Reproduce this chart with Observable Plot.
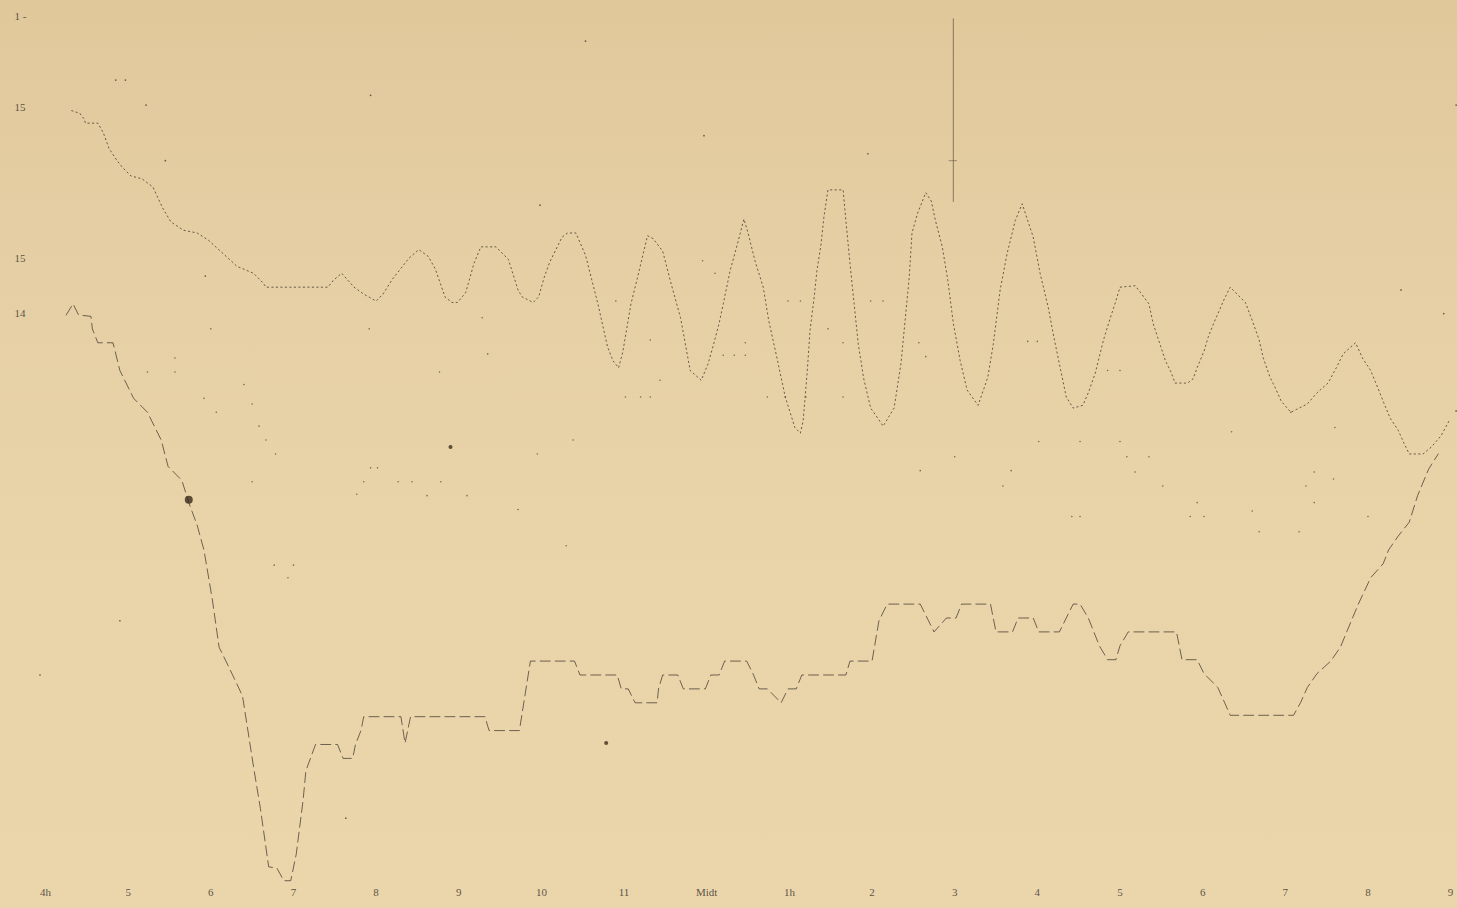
<!DOCTYPE html>
<html>
<head>
<meta charset="utf-8">
<script src="https://cdn.jsdelivr.net/npm/d3@7"></script>
<script src="https://cdn.jsdelivr.net/npm/@observablehq/plot@0.6"></script>
<style>
  html, body { margin: 0; padding: 0; }
  body {
    width: 1457px; height: 908px; overflow: hidden;
    background: linear-gradient(180deg, #e0c89b 0%, #e6cfa4 30%, #e9d3a9 60%, #ebd5ab 100%);
  }
  #chart svg { display: block; }
</style>
</head>
<body>
<div id="chart"></div>
<script>
// Time in minutes after 4h (4 a.m.) ; level in scale units
const hourTicks = [0, 60, 120, 180, 240, 300, 360, 420, 480, 540, 600, 660, 720, 780, 840, 900, 960, 1020];
const hourLabels = ["4h", "5", "6", "7", "8", "9", "10", "11", "Midt", "1h", "2", "3", "4", "5", "6", "7", "8", "9"];

const levelTicks = [64.2, 57.6, 46.8, 42.8];
const levelLabels = ["1 -", "15", "15", "14"];

// Upper (dotted, oscillating) record
const upperSeries = [
  [19,57.4],[25,57.2],[28,56.8],[29,56.5],[38,56.5],[42,55.8],[46,54.7],[52,53.8],[56,53.3],[62,52.7],
  [70,52.5],[78,51.9],[85,50.4],[91,49.4],[100,48.8],[110,48.6],[118,48.1],[128,47.2],[139,46.2],[151,45.7],
  [158,45.0],[160,44.7],[205,44.7],[209,45.2],[215,45.7],[224,44.7],[231,44.2],[240,43.7],[245,44.2],[252,45.3],
  [264,46.8],[271,47.4],[278,46.9],[283,46.0],[290,44.0],[295,43.6],[299,43.6],[305,44.3],[311,46.4],[316,47.6],
  [327,47.6],[336,46.7],[343,44.5],[346,44.0],[354,43.6],[358,44.0],[362,45.4],[366,46.5],[375,48.3],[379,48.6],
  [385,48.6],[392,47.0],[401,43.5],[408,40.4],[412,39.4],[416,38.9],[419,40.0],[425,43.5],[431,45.9],[437,48.4],
  [441,48.2],[448,47.3],[454,45.0],[461,42.5],[468,38.7],[476,38.0],[481,39.2],[485,40.6],[489,42.1],[492,43.5],
  [497,45.9],[502,47.7],[507,49.6],[510,48.6],[515,46.6],[521,44.7],[525,42.3],[531,39.6],[537,36.8],[544,34.6],
  [548,34.2],[550,35.1],[553,38.7],[555,41.6],[558,44.0],[560,45.9],[563,47.8],[565,49.7],[568,51.7],[579,51.7],
  [581,49.5],[584,46.4],[587,43.5],[590,40.6],[594,38.1],[599,36.0],[604,35.3],[608,34.7],[616,36.0],[621,39.2],
  [624,42.3],[627,45.4],[629,48.6],[633,50.0],[639,51.5],[643,50.9],[646,49.5],[651,47.6],[655,45.2],[659,42.1],
  [664,39.4],[669,37.3],[677,36.2],[684,38.2],[688,40.6],[693,44.5],[698,47.1],[704,49.5],[709,50.7],[717,48.3],
  [722,45.7],[728,43.2],[732,41.1],[737,38.7],[741,36.8],[746,36.0],[753,36.2],[757,37.1],[762,38.5],[768,40.9],
  [773,42.5],[777,43.7],[780,44.7],[791,44.8],[795,44.3],[801,43.5],[804,42.1],[809,40.6],[813,39.4],[817,38.6],
  [820,37.8],[829,37.8],[833,38.1],[836,38.9],[841,40.1],[844,41.1],[848,42.1],[852,43.0],[855,43.7],[860,44.7],
  [865,44.2],[871,43.6],[876,42.3],[881,40.9],[884,39.6],[889,38.2],[893,37.4],[897,36.5],[904,35.7],[916,36.3],
  [923,37.1],[931,37.8],[937,38.9],[942,39.9],[951,40.7],[956,39.6],[962,38.7],[967,37.5],[971,36.5],[976,35.3],
  [982,34.4],[986,33.5],[990,32.7],[1000,32.7],[1006,33.2],[1013,34.0],[1019,35.1]
];

// Lower (broken-line, stepped) record
const lowerSeries = [
  [15,42.7],[20,43.5],[24,42.7],[33,42.6],[34,41.7],[38,40.7],[49,40.7],[54,38.7],[64,36.7],[74,35.7],
  [84,33.7],[89,31.8],[99,30.8],[104,29.2],[110,27.6],[115,25.8],[121,22.3],[126,18.8],[131,17.8],[143,15.3],
  [151,10.2],[156,7.2],[162,3.0],[168,2.9],[173,2.0],[178,2.0],[182,3.9],[187,7.8],[189,9.9],[196,11.8],
  [212,11.8],[216,10.8],[223,10.8],[225,11.8],[229,12.8],[231,13.8],[258,13.8],[261,11.9],[265,13.8],[319,13.8],
  [322,12.8],[344,12.8],[352,17.8],[384,17.8],[388,16.8],[415,16.8],[418,15.8],[423,15.8],[428,14.8],[444,14.8],
  [445,15.8],[448,16.8],[459,16.8],[463,15.8],[479,15.8],[483,16.8],[489,16.8],[493,17.8],[509,17.8],[514,16.8],
  [518,15.8],[524,15.8],[534,14.8],[539,15.8],[545,15.8],[549,16.8],[581,16.8],[584,17.8],[600,17.8],[605,20.7],
  [611,21.9],[635,21.9],[640,20.9],[645,19.9],[654,20.9],[661,20.9],[665,21.9],[686,21.9],[690,19.9],[702,19.9],
  [706,20.9],[717,20.9],[721,19.9],[736,19.9],[741,20.9],[746,21.9],[751,21.9],[757,20.9],[761,19.9],[765,18.9],
  [771,17.9],[777,17.9],[780,18.9],[786,19.9],[821,19.9],[825,17.9],[836,17.9],[841,16.9],[851,15.9],[856,14.8],
  [860,13.9],[906,13.9],[911,14.8],[916,15.9],[923,16.9],[933,17.8],[940,18.8],[945,20.0],[953,21.9],[962,23.8],
  [971,24.8],[975,25.8],[982,26.8],[990,27.8],[996,29.7],[1004,31.6],[1011,32.7]
];

// Faint, sparse third record (isolated dots)
const faintReadings = [
  [120,41.7],[74,38.6],[94,39.6],[94,38.6],[115,36.7],[124,35.7],[144,37.7],[150,36.3],[155,34.7],[160,33.7],
  [167,32.7],[150,30.7],[166,24.7],[180,24.7],[176,23.8],[235,41.7],[286,38.6],[226,29.8],[231,30.7],[236,31.7],
  [241,31.7],[256,30.7],[266,30.7],[287,30.7],[277,29.7],[306,29.7],[343,28.7],[321,39.9],[317,42.5],[357,32.7],
  [383,33.7],[378,26.1],[660,32.5],[635,31.5],[701,31.5],[695,30.4],[721,33.6],[751,33.6],[780,33.6],[785,32.5],
  [801,32.5],[791,31.4],[811,30.4],[836,29.2],[745,28.2],[751,28.2],[831,28.2],[841,28.2],[876,28.6],[881,27.1],
  [910,27.1],[921,29.2],[915,30.4],[921,31.4],[935,30.9],[960,28.2],[861,34.3],[904,35.7],[936,34.6],
  [492,39.8],[500,39.8],[508,39.8],[508,40.7],[539,43.7],[548,43.7],[599,43.7],[608,43.7],[713,40.8],[720,40.8],
  [771,38.7],[780,38.7],[568,41.7],[579,40.7],[634,40.7],[639,39.7],[524,36.8],[537,36.8],[552,36.8],[579,36.8],
  [486,45.7],[477,46.6],[414,43.7],[439,40.9],[421,36.8],[432,36.8],[439,36.8],[446,38.0]
];

// Stray marks on the sheet
const strayMarks = [
  [392,62.4],[236,58.5],[51,59.6],[58,59.6],[73,57.8],[87,53.8],[478,55.6],[597,54.3],[359,50.6],[1024,57.8],
  [984,44.5],[1015,42.8],[1024,35.8],[116,45.5],[54,20.7],[-4,16.8],[218,6.5]
];
const inkBlot = [[104,29.4]];
const inkSpecks = [[294,33.2],[407,11.9]];

// Vertical marker drawn at 3h
const markerLine = [{minute: 659, from: 50.8, to: 64.0, cross: 53.8, halfWidth: 3}];

const ink = "#3a332b";

const chart = Plot.plot({
  width: 1457,
  height: 908,
  marginTop: 0,
  marginRight: 0,
  marginBottom: 24,
  marginLeft: 0,
  style: {background: "transparent", fontFamily: "'Liberation Serif', 'DejaVu Serif', serif", color: ink},
  x: {type: "linear", domain: [-32.67, 1025.0]},
  y: {type: "linear", domain: [1.727, 65.324]},
  marks: [
    Plot.axisX({
      ticks: hourTicks,
      tickFormat: (d) => hourLabels[hourTicks.indexOf(d)],
      tickSize: 0,
      tickPadding: 4,
      fontSize: 11,
      fill: "#3c3832",
      fillOpacity: 0.85,
      label: null
    }),
    Plot.axisY({
      ticks: levelTicks,
      tickFormat: (d) => levelLabels[levelTicks.indexOf(d)],
      tickSize: 0,
      tickPadding: 0,
      textAnchor: "start",
      dx: 14,
      fontSize: 11,
      fill: "#3c3832",
      fillOpacity: 0.85,
      label: null
    }),
    Plot.ruleX(markerLine, {x: "minute", y1: "from", y2: "to", stroke: ink, strokeWidth: 0.8, strokeOpacity: 0.7}),
    Plot.ruleY(markerLine, {y: "cross", x1: d => d.minute - d.halfWidth, x2: d => d.minute + d.halfWidth, stroke: ink, strokeWidth: 0.8, strokeOpacity: 0.55}),
    Plot.line(upperSeries, {
      x: d => d[0], y: d => d[1],
      stroke: ink, strokeWidth: 1, strokeOpacity: 0.75,
      strokeDasharray: "1.3,3.2", curve: "linear"
    }),
    Plot.line(lowerSeries, {
      x: d => d[0], y: d => d[1],
      stroke: ink, strokeWidth: 0.9, strokeOpacity: 0.8,
      strokeDasharray: "10,5", curve: "linear"
    }),
    Plot.dot(faintReadings, {x: d => d[0], y: d => d[1], r: 0.8, fill: ink, fillOpacity: 0.65, stroke: "none"}),
    Plot.dot(strayMarks, {x: d => d[0], y: d => d[1], r: 0.85, fill: ink, fillOpacity: 0.75, stroke: "none"}),
    Plot.dot(inkBlot, {x: d => d[0], y: d => d[1], r: 4, fill: "#3a2a1a", fillOpacity: 0.8, stroke: "none"}),
    Plot.dot(inkSpecks, {x: d => d[0], y: d => d[1], r: 2, fill: "#3a2a1a", fillOpacity: 0.8, stroke: "none"})
  ]
});

document.getElementById("chart").appendChild(chart);
</script>
</body>
</html>
